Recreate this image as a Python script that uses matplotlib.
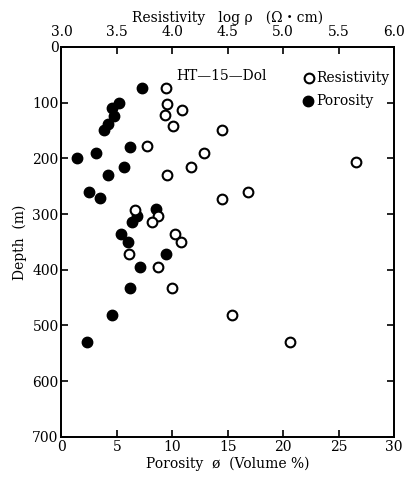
import matplotlib
matplotlib.use('Agg')
import matplotlib.pyplot as plt

plt.rcParams['font.family'] = ['DejaVu Serif', 'Noto Sans CJK JP']

# Porosity (volume %) vs depth (m)
porosity = [7.3, 5.2, 4.6, 4.7, 4.2, 3.8, 6.2, 3.1, 1.4, 5.6, 4.2, 2.5,
            3.5, 8.5, 6.8, 6.4, 5.4, 6.0, 9.4, 7.1, 6.2, 4.6, 2.3]
porosity_depth = [74, 100, 110, 125, 139, 149, 180, 191, 200, 216, 230, 260,
                  272, 291, 303, 315, 335, 351, 371, 396, 433, 481, 529]

# Resistivity (log rho, ohm*cm) vs depth (m)
resistivity = [3.94, 3.95, 4.09, 3.93, 4.01, 4.45, 3.77, 4.29, 4.17, 3.95,
               4.45, 3.66, 3.87, 3.82, 4.02, 4.08, 3.61, 5.66, 4.68, 3.87,
               4.00, 4.54, 5.06]
resistivity_depth = [74, 102, 113, 122, 142, 149, 178, 190, 216, 230,
                     273, 293, 303, 315, 336, 351, 372, 206, 261, 396,
                     433, 481, 530]

por_ticks = [0, 5, 10, 15, 20, 25, 30]
res_ticks = [3.0, 3.5, 4.0, 4.5, 5.0, 5.5, 6.0]
depth_ticks = [0, 100, 200, 300, 400, 500, 600, 700]

fig = plt.figure(figsize=(4.07, 4.78), dpi=100)
ax = fig.add_axes([0.151, 0.086, 0.817, 0.816])
ax_top = ax.twiny()

ax.plot(porosity, porosity_depth, 'o', color='black', markersize=7.5,
        linestyle='none', zorder=3)
ax_top.plot(resistivity, resistivity_depth, 'o', markerfacecolor='white',
            markeredgecolor='black', markeredgewidth=1.5, markersize=7,
            linestyle='none', zorder=4)

ax.set_xlim(0, 30)
ax.set_ylim(700, 0)
ax_top.set_xlim(3.0, 6.0)

ax.set_xticks(por_ticks)
ax.set_xticklabels([str(t) for t in por_ticks])
ax.set_yticks(depth_ticks)
ax_top.set_xticks(res_ticks)
ax_top.set_xticklabels([f'{t:.1f}' for t in res_ticks])

ax.tick_params(axis='both', direction='in', length=5, width=1.2,
               labelsize=10, pad=2, right=True)
ax.tick_params(axis='x', top=False)
ax_top.tick_params(axis='x', direction='in', length=5, width=1.2,
                   labelsize=10, pad=6)

for a in (ax, ax_top):
    for s in a.spines.values():
        s.set_linewidth(1.3)

ax.set_xlabel('Porosity  ø  (Volume %)', fontsize=10, labelpad=2)
ax.set_ylabel('Depth  (m)', fontsize=10, labelpad=4)
ax_top.set_xlabel('Resistivity   log ρ   (Ω・cm)', fontsize=10, labelpad=2)

ax.text(0.345, 0.925, 'HT—15—Dol', transform=ax.transAxes, fontsize=10,
        ha='left', va='center')

# legend drawn by hand in the upper right corner
ax.plot([0.745], [0.921], 'o', transform=ax.transAxes, markerfacecolor='white',
        markeredgecolor='black', markeredgewidth=1.5, markersize=7, clip_on=False)
ax.text(0.765, 0.921, 'Resistivity', transform=ax.transAxes, fontsize=10,
        ha='left', va='center')
ax.plot([0.742], [0.862], 'o', transform=ax.transAxes, color='black',
        markersize=7.5, clip_on=False)
ax.text(0.765, 0.862, 'Porosity', transform=ax.transAxes, fontsize=10,
        ha='left', va='center')

fig.savefig('out.png', dpi=100)
